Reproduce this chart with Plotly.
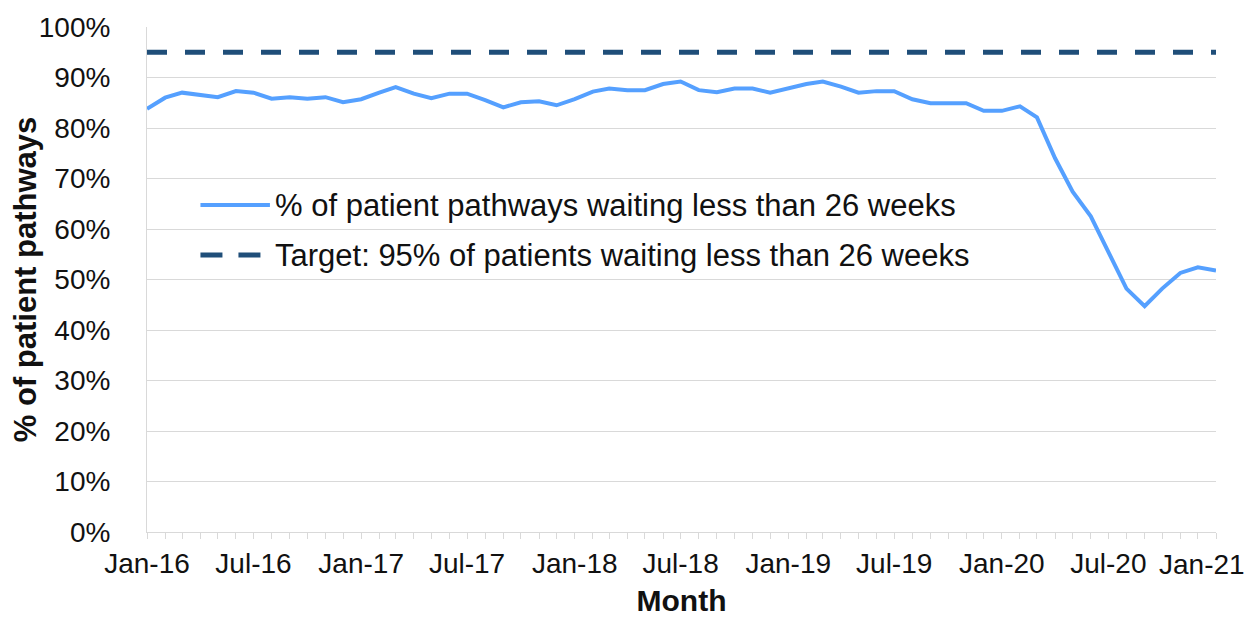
import pandas as pd
import plotly.graph_objects as go

# Monthly data Jan-16 .. Jan-21
months = pd.date_range("2016-01-01", "2021-01-01", freq="MS")

pct_under_26 = [
    83.8, 86.0, 87.0, 86.5, 86.1, 87.3, 87.0, 85.8, 86.1, 85.8, 86.1, 85.1,
    85.7, 87.0, 88.1, 86.8, 85.9, 86.8, 86.8, 85.5, 84.1, 85.1, 85.3, 84.5,
    85.7, 87.2, 87.8, 87.5, 87.5, 88.7, 89.2, 87.5, 87.1, 87.8, 87.8, 87.0,
    87.9, 88.7, 89.2, 88.2, 87.0, 87.3, 87.3, 85.7, 84.9, 84.9, 84.9, 83.4,
    83.4, 84.3, 82.1, 74.0, 67.4, 62.5, 55.5, 48.2, 44.7, 48.2, 51.3, 52.4,
    51.8,
]
target_pct = 95.0

tick_dates = months[::6]
tick_labels = ["Jan-16", "Jul-16", "Jan-17", "Jul-17", "Jan-18", "Jul-18",
               "Jan-19", "Jul-19", "Jan-20", "Jul-20", "Jan-21"]

series_name = "% of patient pathways waiting less than 26 weeks"
target_name = "Target: 95% of patients waiting less than 26 weeks"

FONT = "Liberation Sans, Arial, sans-serif"
BLUE = "#55A0FF"
NAVY = "#1F4E79"
GRID = "#D9D9D9"

fig = go.Figure()

fig.add_trace(go.Scatter(
    x=months, y=[v / 100 for v in pct_under_26],
    mode="lines", name=series_name, showlegend=False,
    line=dict(color=BLUE, width=4),
))
fig.add_trace(go.Scatter(
    x=months, y=[target_pct / 100] * len(months),
    mode="lines", name=target_name, showlegend=False,
    line=dict(color=NAVY, width=5, dash="20px,18px"),
))

# legend drawn by hand so the key lines are as long as in the original
legend_rows = [(series_name, BLUE, 4, "solid", 0.6475),
               (target_name, NAVY, 5, "22px,16px", 0.5485)]
for text, col, w, dash, yy in legend_rows:
    fig.add_shape(type="line", xref="paper", yref="paper",
                  x0=0.05, x1=0.115, y0=yy, y1=yy,
                  line=dict(color=col, width=w, dash=dash))
    fig.add_annotation(text=text, xref="paper", yref="paper",
                       x=0.118, y=yy, xanchor="left", yanchor="middle",
                       showarrow=False, font=dict(size=31, color="#111111"))

# plotly drops the last tick label because it touches the edge, so add it back
fig.add_annotation(text=tick_labels[-1], x=tick_dates[-1], xref="x",
                   y=0, yref="paper", xanchor="right", yanchor="middle",
                   xshift=31, yshift=-32, showarrow=False,
                   font=dict(size=28, color="#111111"))

# page body adds 8px on each side, so keep the figure inside the window
fig.update_layout(
    width=1250, height=612,
    margin=dict(l=139, r=42, t=19, b=88),
    plot_bgcolor="white", paper_bgcolor="white",
    font=dict(family=FONT, size=28, color="#111111"),
    showlegend=False,
)

fig.update_xaxes(
    range=[months[0], months[-1]], automargin=False,
    tickmode="array", tickvals=tick_dates[:-1], ticktext=tick_labels[:-1],
    ticks="outside", ticklen=6, tickcolor=GRID,
    minor=dict(dtick="M1", tick0="2016-01-01", ticks="outside", ticklen=6,
               tickcolor=GRID, showgrid=False),
    showline=True, linecolor=GRID, linewidth=1,
    showgrid=False, zeroline=False,
    tickfont=dict(size=28),
    title=dict(text="<b>Month</b>", font=dict(size=30), standoff=12),
)
fig.update_yaxes(
    range=[0, 1], dtick=0.1, tickformat=".0%", automargin=False,
    showgrid=True, gridcolor=GRID, gridwidth=1,
    showline=True, linecolor=GRID, linewidth=1,
    zeroline=False, ticks="", ticklabelstandoff=30,
    tickfont=dict(size=28),
    title=dict(text="<b>% of patient pathways</b>", font=dict(size=31), standoff=4),
)

fig.write_html("out.html")
